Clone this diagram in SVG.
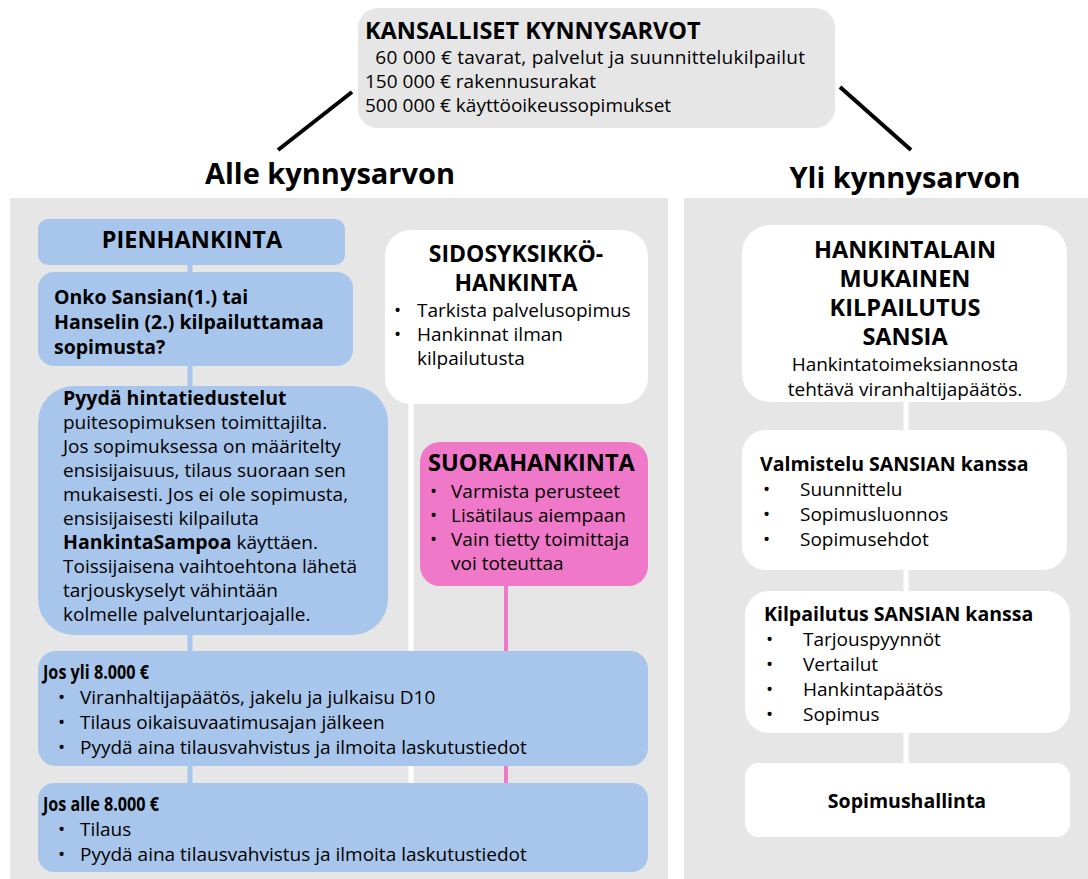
<svg xmlns="http://www.w3.org/2000/svg" width="1088" height="879" viewBox="0 0 1088 879">
<style>
text{font-family:"Open Sans","Noto Sans","Liberation Sans",sans-serif;fill:#000;font-size:19px}
.b{font-weight:bold;font-size:19.5px}
.t{font-size:23.5px;font-weight:bold}
.h{font-size:29px;font-weight:bold}
.c{text-anchor:middle}
.blue{fill:#a8c6eb}
.white{fill:#fff}
.pink{fill:#ef78c8}
</style>
<rect width="1088" height="879" fill="#fff"/>
<rect x="10" y="198" width="658" height="681" fill="#e6e6e6"/>
<rect x="684" y="198" width="404" height="681" fill="#e6e6e6"/>

<g id="connectors" stroke-linecap="butt" fill="none">
<line x1="352" y1="92" x2="278" y2="150" stroke="#000" stroke-width="4"/>
<line x1="840" y1="87" x2="911" y2="150" stroke="#000" stroke-width="4"/>
<line x1="190" y1="262" x2="190" y2="786" stroke="#a8c6eb" stroke-width="5"/>
<line x1="411" y1="400" x2="411" y2="786" stroke="#fff" stroke-width="5"/>
<line x1="506" y1="582" x2="506" y2="786" stroke="#ef78c8" stroke-width="4"/>
<line x1="906" y1="400" x2="906" y2="766" stroke="#fff" stroke-width="5"/>
</g>

<g id="kynnysarvot">
<rect x="358" y="8" width="477" height="120" rx="20" fill="#e6e6e6"/>
<text x="365" y="39" class="t">KANSALLISET KYNNYSARVOT</text>
<text x="365" y="64" xml:space="preserve" textLength="440">  60 000 € tavarat, palvelut ja suunnittelukilpailut</text>
<text x="365" y="88">150 000 € rakennusurakat</text>
<text x="365" y="112">500 000 € käyttöoikeussopimukset</text>
</g>

<g id="alle-heading"><text x="330" y="184" class="h c">Alle kynnysarvon</text></g>
<g id="yli-heading"><text x="905" y="188" class="h c">Yli kynnysarvon</text></g>

<g id="pienhankinta">
<rect x="38" y="219" width="307" height="46" rx="10" class="blue"/>
<text x="192" y="248" class="t c">PIENHANKINTA</text>
</g>

<g id="kysymys">
<rect x="38" y="272" width="315" height="94" rx="16" class="blue"/>
<text x="54" y="304" class="b">Onko Sansian(1.) tai</text>
<text x="54" y="329" class="b">Hanselin (2.) kilpailuttamaa</text>
<text x="54" y="354" class="b">sopimusta?</text>
</g>

<g id="hintatiedustelut">
<rect x="38" y="386" width="350" height="249" rx="36" class="blue"/>
<text x="63" y="405" class="b">Pyydä hintatiedustelut</text>
<text x="63" y="429">puitesopimuksen toimittajilta.</text>
<text x="63" y="453">Jos sopimuksessa on määritelty</text>
<text x="63" y="477">ensisijaisuus, tilaus suoraan sen</text>
<text x="63" y="501">mukaisesti. Jos ei ole sopimusta,</text>
<text x="63" y="525">ensisijaisesti kilpailuta</text>
<text x="63" y="549"><tspan class="b">HankintaSampoa</tspan> käyttäen.</text>
<text x="63" y="573">Toissijaisena vaihtoehtona lähetä</text>
<text x="63" y="597">tarjouskyselyt vähintään</text>
<text x="63" y="621">kolmelle palveluntarjoajalle.</text>
</g>

<g id="sidosyksikko">
<rect x="385" y="230" width="263" height="174" rx="26" class="white"/>
<text x="516" y="262" class="t c" style="font-size:23px">SIDOSYKSIKKÖ-</text>
<text x="516" y="291" class="t c" style="font-size:23px">HANKINTA</text>
<text x="394" y="317">•</text><text x="417" y="317">Tarkista palvelusopimus</text>
<text x="394" y="341">•</text><text x="417" y="341">Hankinnat ilman</text>
<text x="417" y="365">kilpailutusta</text>
</g>

<g id="suorahankinta">
<rect x="420" y="442" width="228" height="144" rx="20" class="pink"/>
<text x="428" y="471" class="t">SUORAHANKINTA</text>
<text x="430" y="498">•</text><text x="451" y="498">Varmista perusteet</text>
<text x="430" y="522">•</text><text x="451" y="522">Lisätilaus aiempaan</text>
<text x="430" y="546">•</text><text x="451" y="546">Vain tietty toimittaja</text>
<text x="451" y="570">voi toteuttaa</text>
</g>

<g id="jos-yli">
<rect x="38" y="651" width="610" height="115" rx="18" class="blue"/>
<text x="43" y="679" class="b" style="font-size:19px" textLength="106" lengthAdjust="spacingAndGlyphs">Jos yli 8.000 €</text>
<text x="58" y="704">•</text><text x="80" y="704">Viranhaltijapäätös, jakelu ja julkaisu D10</text>
<text x="58" y="729">•</text><text x="80" y="729">Tilaus oikaisuvaatimusajan jälkeen</text>
<text x="58" y="754">•</text><text x="80" y="754">Pyydä aina tilausvahvistus ja ilmoita laskutustiedot</text>
</g>

<g id="jos-alle">
<rect x="38" y="783" width="610" height="89" rx="16" class="blue"/>
<text x="43" y="811" class="b" style="font-size:19px" textLength="116" lengthAdjust="spacingAndGlyphs">Jos alle 8.000 €</text>
<text x="58" y="836">•</text><text x="80" y="836">Tilaus</text>
<text x="58" y="861">•</text><text x="80" y="861">Pyydä aina tilausvahvistus ja ilmoita laskutustiedot</text>
</g>

<g id="hankintalaki">
<rect x="742" y="225" width="325" height="177" rx="28" class="white"/>
<text x="905" y="258" class="t c">HANKINTALAIN</text>
<text x="905" y="287" class="t c">MUKAINEN</text>
<text x="905" y="316" class="t c">KILPAILUTUS</text>
<text x="905" y="345" class="t c">SANSIA</text>
<text x="905" y="371" class="c">Hankintatoimeksiannosta</text>
<text x="905" y="396" class="c">tehtävä viranhaltijapäätös.</text>
</g>

<g id="valmistelu">
<rect x="742" y="430" width="325" height="140" rx="24" class="white"/>
<text x="760" y="471" class="b">Valmistelu SANSIAN kanssa</text>
<text x="763" y="496">•</text><text x="800" y="496">Suunnittelu</text>
<text x="763" y="521">•</text><text x="800" y="521">Sopimusluonnos</text>
<text x="763" y="546">•</text><text x="800" y="546">Sopimusehdot</text>
</g>

<g id="kilpailutus">
<rect x="745" y="591" width="325" height="142" rx="24" class="white"/>
<text x="764" y="621" class="b">Kilpailutus SANSIAN kanssa</text>
<text x="766" y="646">•</text><text x="803" y="646">Tarjouspyynnöt</text>
<text x="766" y="671">•</text><text x="803" y="671">Vertailut</text>
<text x="766" y="696">•</text><text x="803" y="696">Hankintapäätös</text>
<text x="766" y="721">•</text><text x="803" y="721">Sopimus</text>
</g>

<g id="sopimushallinta">
<rect x="745" y="763" width="325" height="74" rx="14" class="white"/>
<text x="907" y="808" class="b c">Sopimushallinta</text>
</g>
</svg>
